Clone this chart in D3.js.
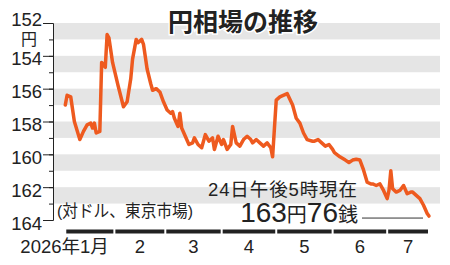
<!DOCTYPE html>
<html>
<head>
<meta charset="utf-8">
<script src="https://cdn.jsdelivr.net/npm/d3@7/dist/d3.min.js"></script>
<style>
  body { margin: 0; background: #fff; }
  text { font-family: "Liberation Sans", "Noto Sans CJK JP", sans-serif; fill: #222; }
</style>
</head>
<body>
<svg id="chart" width="450" height="265"></svg>
<script>
// yen per dollar, Tokyo market
const dates = [
  '2026-01-05','2026-01-06','2026-01-08','2026-01-10','2026-01-13','2026-01-15','2026-01-17','2026-01-19',
  '2026-01-20','2026-01-21','2026-01-22','2026-01-24','2026-01-25','2026-01-27','2026-01-28','2026-01-29',
  '2026-01-31','2026-02-03','2026-02-06','2026-02-08','2026-02-10','2026-02-11','2026-02-13','2026-02-14',
  '2026-02-16','2026-02-17','2026-02-19','2026-02-21','2026-02-22','2026-02-24','2026-02-26','2026-02-28',
  '2026-03-02','2026-03-04','2026-03-05','2026-03-06','2026-03-08','2026-03-09','2026-03-10','2026-03-12',
  '2026-03-14','2026-03-16','2026-03-17','2026-03-19','2026-03-21','2026-03-23','2026-03-25','2026-03-27',
  '2026-03-28','2026-03-30','2026-04-01','2026-04-02','2026-04-04','2026-04-06','2026-04-07','2026-04-09',
  '2026-04-11','2026-04-13','2026-04-15','2026-04-17','2026-04-18','2026-04-20','2026-04-22','2026-04-24',
  '2026-04-26','2026-04-28','2026-04-29','2026-05-01','2026-05-03','2026-05-07','2026-05-10','2026-05-12',
  '2026-05-14','2026-05-16','2026-05-18','2026-05-21','2026-05-22','2026-05-24','2026-05-26','2026-05-28',
  '2026-05-30','2026-06-01','2026-06-02','2026-06-05','2026-06-08','2026-06-10','2026-06-12','2026-06-14',
  '2026-06-16','2026-06-18','2026-06-20','2026-06-22','2026-06-23','2026-06-25','2026-06-27','2026-06-29',
  '2026-07-01','2026-07-02','2026-07-03','2026-07-04','2026-07-06','2026-07-08','2026-07-10','2026-07-12',
  '2026-07-14','2026-07-15','2026-07-17','2026-07-19','2026-07-21','2026-07-23','2026-07-24'
]
const rates = [
  157.0,156.4,156.5,158.0,159.1,158.6,158.2,158.1,
  158.4,158.1,158.7,158.6,154.4,154.7,152.7,152.9,
  154.4,155.8,157.1,156.8,155.4,154.2,153.0,153.2,
  153.0,153.3,154.8,155.7,156.1,156.0,156.2,156.8,
  157.3,157.5,157.4,157.8,158.3,157.5,158.4,158.9,
  159.4,159.3,159.0,159.4,159.6,158.8,159.2,159.0,
  159.7,158.9,159.4,159.1,159.7,159.4,158.3,159.3,
  159.5,159.1,158.9,159.1,159.3,159.1,159.3,159.5,
  159.3,159.6,160.15,156.7,156.5,156.3,157.0,157.8,
  158.1,158.7,159.1,159.2,159.2,159.1,159.3,159.5,
  159.4,159.7,159.9,160.15,160.35,160.5,160.35,160.3,
  160.35,160.95,161.7,161.8,161.8,161.9,161.8,162.2,
  162.7,162.2,161.0,162.1,162.3,162.2,161.9,162.4,
  162.3,162.3,162.5,162.7,163.1,163.6,163.76
]
const yTicks = [152, 154, 156, 158, 160, 162, 164]
const monthLabels = ['2026年1月', '2', '3', '4', '5', '6', '7']

const parse = d3.timeParse('%Y-%m-%d')
const data = dates.map(function (d, i) { return { date: parse(d), v: rates[i] } })

var svg = d3.select('#chart')
var x = d3.scaleTime().domain([new Date(2026, 0, 1), new Date(2026, 6, 24)]).range([58, 429])
var y = d3.scaleLinear().domain([152, 164]).range([23, 220])
var left = 53, right = 440

// grey stripes
svg.append('g')
  .selectAll('rect')
  .data(d3.range(152, 164, 2))
  .enter().append('rect')
  .attr('x', left)
  .attr('width', right - left)
  .attr('y', function (d) { return y(d) })
  .attr('height', function (d) { return y(d + 1) - y(d) })
  .attr('fill', '#e5e5e5')

// y axis: minor ticks, then major ticks with labels
svg.append('g')
  .attr('transform', 'translate(' + left + ',0)')
  .call(d3.axisLeft(y).tickValues(d3.range(152, 165)).tickSize(4).tickSizeOuter(0).tickFormat(''))
  .call(function (g) { g.selectAll('line,path').attr('stroke', '#222') })

var yAxis = svg.append('g')
  .attr('transform', 'translate(' + left + ',0)')
  .call(d3.axisLeft(y).tickValues(yTicks).tickSize(10).tickSizeOuter(0))
yAxis.selectAll('line,path').attr('stroke', '#222')
yAxis.selectAll('text')
  .attr('x', -11)
  .attr('dy', null)
  .attr('y', function (d) { return d === 152 ? 2 : 9 })
  .attr('font-size', 18.5)
  .attr('font-family', '"Liberation Sans", sans-serif')
  .style('fill', '#222')

svg.append('text')
  .attr('x', 29)
  .attr('y', 45)
  .attr('text-anchor', 'middle')
  .attr('font-size', 16)
  .text('円')

// month bars
var first = data[0].date, last = data[data.length - 1].date
var months = d3.range(0, 7).map(function (m) {
  var s = new Date(2026, m, 1), e = new Date(2026, m + 1, 1)
  return { s: s < first ? first : s, e: e > last ? last : e, label: monthLabels[m] }
})

svg.append('g')
  .selectAll('rect')
  .data(months)
  .enter().append('rect')
  .attr('x', function (d) { return x(d.s) + 1 })
  .attr('width', function (d) { return x(d.e) - x(d.s) - 2 })
  .attr('y', 229.5)
  .attr('height', 4)
  .attr('fill', '#222')

svg.append('g')
  .selectAll('text')
  .data(months)
  .enter().append('text')
  .attr('x', function (d, i) {
    var c = (x(d.s) + x(d.e)) / 2
    return i === 0 ? c + 19 : c
  })
  .attr('y', 253)
  .attr('text-anchor', function (d, i) { return i === 0 ? 'end' : 'middle' })
  .attr('font-size', 18.5)
  .text(function (d) { return d.label })

// the rate line
var line = d3.line()
  .x(function (d) { return x(d.date) })
  .y(function (d) { return y(d.v) })

svg.append('path')
  .datum(data)
  .attr('d', line)
  .attr('fill', 'none')
  .attr('stroke', '#ee5a1f')
  .attr('stroke-width', 3.5)
  .attr('stroke-linejoin', 'round')
  .attr('stroke-linecap', 'round')

// title
svg.append('text')
  .attr('x', 243)
  .attr('y', 31)
  .attr('text-anchor', 'middle')
  .attr('font-size', 25)
  .attr('font-weight', 'bold')
  .attr('font-family', '"Noto Sans CJK JP", sans-serif')
  .attr('stroke', '#fff')
  .attr('stroke-width', 3)
  .attr('paint-order', 'stroke')
  .text('円相場の推移')

svg.append('text')
  .attr('x', 57)
  .attr('y', 217)
  .attr('font-size', 17)
  .attr('font-family', '"Noto Sans CJK JP", sans-serif')
  .attr('textLength', 136)
  .attr('lengthAdjust', 'spacingAndGlyphs')
  .text('(対ドル、東京市場)')

svg.append('text')
  .attr('x', 357)
  .attr('y', 196)
  .attr('text-anchor', 'end')
  .attr('font-size', 18.5)
  .attr('font-family', '"Noto Sans CJK JP", sans-serif')
  .attr('textLength', 149)
  .attr('lengthAdjust', 'spacing')
  .text('24日午後5時現在')

var lastPt = data[data.length - 1]
var val = svg.append('text')
  .attr('x', 358)
  .attr('y', 222)
  .attr('text-anchor', 'end')
val.append('tspan').attr('font-size', 28).attr('font-family', '"Liberation Sans", sans-serif').text('163')
val.append('tspan').attr('font-size', 20).attr('font-family', '"Noto Sans CJK JP", sans-serif').text('円')
val.append('tspan').attr('font-size', 28).attr('font-family', '"Liberation Sans", sans-serif').text('76')
val.append('tspan').attr('font-size', 20).attr('font-family', '"Noto Sans CJK JP", sans-serif').text('銭')

svg.append('line')
  .attr('x1', 362)
  .attr('x2', x(lastPt.date) - 6)
  .attr('y1', y(lastPt.v) + 2)
  .attr('y2', y(lastPt.v) + 2)
  .attr('stroke', '#333')
  .attr('stroke-width', 1)
</script>
</body>
</html>
